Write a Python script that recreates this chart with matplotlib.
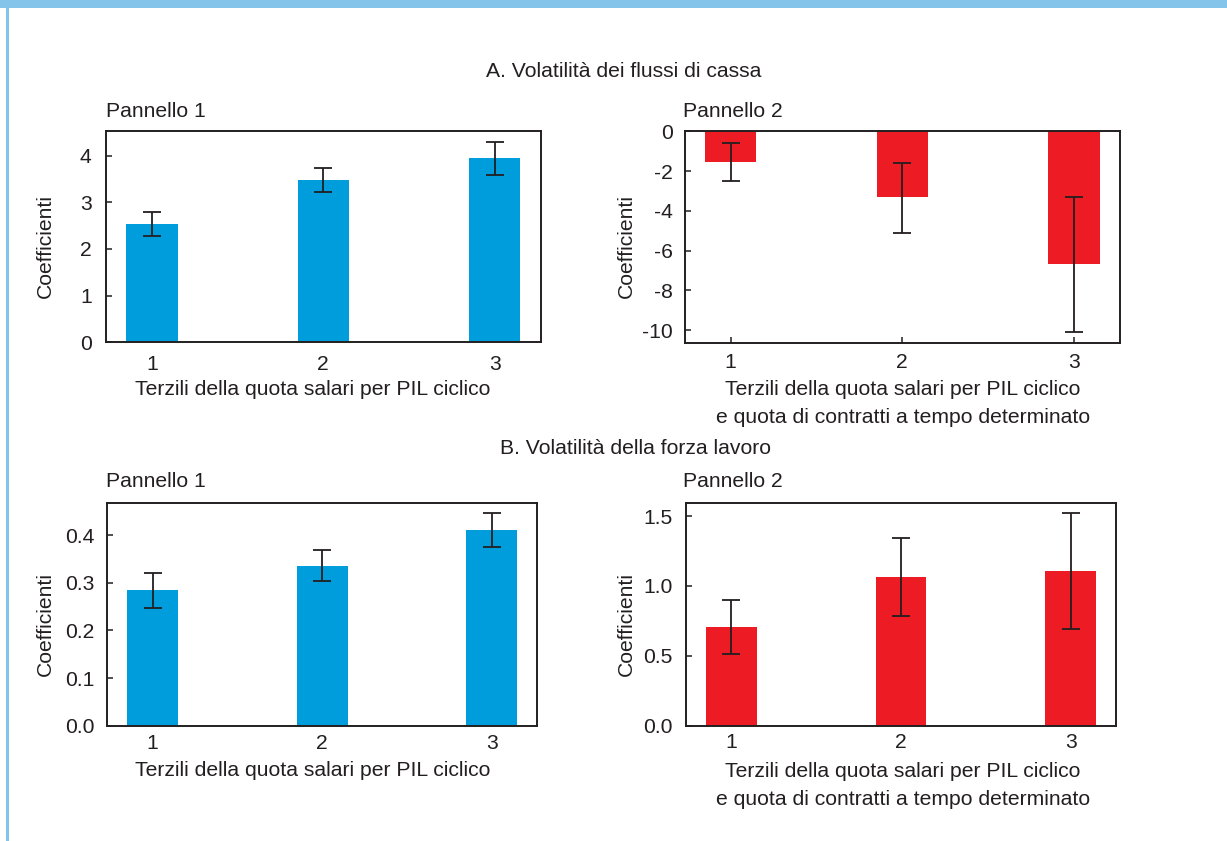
import matplotlib
matplotlib.use("Agg")
import matplotlib.pyplot as plt
from matplotlib.patches import Rectangle

# ---- data -------------------------------------------------------------
terziles = [1, 2, 3]

cash_p1 = [2.53, 3.475, 3.95]
cash_p1_lo = [2.28, 3.22, 3.59]
cash_p1_hi = [2.79, 3.74, 4.30]

cash_p2 = [-1.56, -3.32, -6.70]
cash_p2_lo = [-2.52, -5.10, -10.12]
cash_p2_hi = [-0.57, -1.60, -3.31]

labour_p1 = [0.284, 0.335, 0.410]
labour_p1_lo = [0.248, 0.304, 0.376]
labour_p1_hi = [0.321, 0.368, 0.446]

labour_p2 = [0.706, 1.064, 1.107]
labour_p2_lo = [0.512, 0.784, 0.691]
labour_p2_hi = [0.897, 1.345, 1.522]

ticks_cash_p1 = [0, 1, 2, 3, 4]
ticks_cash_p2 = [0, -2, -4, -6, -8, -10]
ticks_labour_p1 = [0.0, 0.1, 0.2, 0.3, 0.4]
ticks_labour_p2 = [0.0, 0.5, 1.0, 1.5]

title_a = "A. Volatilità dei flussi di cassa"
title_b = "B. Volatilità della forza lavoro"
xlabel_p1 = "Terzili della quota salari per PIL ciclico"
xlabel_p2 = "Terzili della quota salari per PIL ciclico\ne quota di contratti a tempo determinato"
ylabel = "Coefficienti"

# ---- style ------------------------------------------------------------
W, H = 1227, 841
BLUE = "#009ddc"
RED = "#ed1c24"
INK = "#231f20"
FRAME = "#84c4ea"
FS = 15.2

plt.rcParams["font.family"] = ["Liberation Sans", "DejaVu Sans"]
plt.rcParams["axes.unicode_minus"] = False
plt.rcParams["text.color"] = INK

fig = plt.figure(figsize=(W / 100, H / 100), dpi=100)


def px_axes(l, t, r, b):
    return fig.add_axes([l / W, 1 - b / H, (r - l) / W, (b - t) / H])


def ftext(x, y, s, **kw):
    fig.text(x / W, 1 - y / H, s, fontsize=FS, color=INK, **kw)


# page frame: top band and left rule
fig.patches.append(Rectangle((0, 1 - 7.5 / H), 1, 7.5 / H, transform=fig.transFigure,
                             facecolor=FRAME, edgecolor="none", zorder=0))
fig.patches.append(Rectangle((6 / W, 0), 3 / W, 1 - 7.5 / H, transform=fig.transFigure,
                             facecolor=FRAME, edgecolor="none", zorder=0))


def panel(box, vals, lo, hi, color, ylim, yticks, yfmt, ypad, xpad):
    ax = px_axes(*box)
    ax.set_axisbelow(True)
    ax.bar(terziles, vals, width=0.3, color=color, zorder=1)
    yerr = [[v - l for v, l in zip(vals, lo)], [h - v for v, h in zip(vals, hi)]]
    ax.errorbar(terziles, vals, yerr=yerr, fmt="none", ecolor=INK,
                elinewidth=1.3, capsize=6.3, capthick=1.3, zorder=3)
    ax.set_xlim(0.732, 3.268)
    ax.set_ylim(*ylim)
    ax.set_xticks(terziles)
    ax.set_xticklabels([str(t) for t in terziles])
    ax.set_yticks(yticks)
    ax.set_yticklabels([yfmt.format(t) for t in yticks])
    for s in ax.spines.values():
        s.set_color(INK)
        s.set_linewidth(1.4)
    ax.tick_params(axis="both", direction="in", length=4.5, width=1.1,
                   color=INK, labelsize=FS, labelcolor=INK)
    ax.tick_params(axis="y", pad=ypad)
    ax.tick_params(axis="x", pad=xpad)
    return ax


panel((106, 131.3, 540.7, 342.3), cash_p1, cash_p1_lo, cash_p1_hi, BLUE,
      (0, 4.52), ticks_cash_p1, "{:d}", 10.3, 9.0)
panel((684.7, 131.3, 1120, 343), cash_p2, cash_p2_lo, cash_p2_hi, RED,
      (-10.65, 0), ticks_cash_p2, "{:d}", 8.4, 7.4)
panel((107.3, 502.7, 537, 725.7), labour_p1, labour_p1_lo, labour_p1_hi, BLUE,
      (0, 0.468), ticks_labour_p1, "{:.1f}", 8.9, 6.0)
panel((686, 502.7, 1116, 725.7), labour_p2, labour_p2_lo, labour_p2_hi, RED,
      (0, 1.596), ticks_labour_p2, "{:.1f}", 9.6, 5.5)

# section titles
ftext(624, 76.7, title_a, ha="center", va="baseline")
ftext(635, 454, title_b, ha="center", va="baseline")

# panel captions
ftext(106, 116.7, "Pannello 1", ha="left", va="baseline")
ftext(682.7, 116.7, "Pannello 2", ha="left", va="baseline")
ftext(106, 487.3, "Pannello 1", ha="left", va="baseline")
ftext(682.7, 487.3, "Pannello 2", ha="left", va="baseline")

# axis titles
line1, line2 = xlabel_p2.split("\n")
ftext(313, 394.5, xlabel_p1, ha="center", va="baseline")
ftext(903, 395, line1, ha="center", va="baseline")
ftext(903, 423.3, line2, ha="center", va="baseline")
ftext(313, 776.5, xlabel_p1, ha="center", va="baseline")
ftext(903, 776.7, line1, ha="center", va="baseline")
ftext(903, 805, line2, ha="center", va="baseline")

for x, y in [(45.7, 245.5), (626.7, 245.5), (45.7, 624), (626.7, 624)]:
    ftext(x, y, ylabel, ha="center", va="center", rotation=90)

fig.savefig("out.png", dpi=100, facecolor="white")
